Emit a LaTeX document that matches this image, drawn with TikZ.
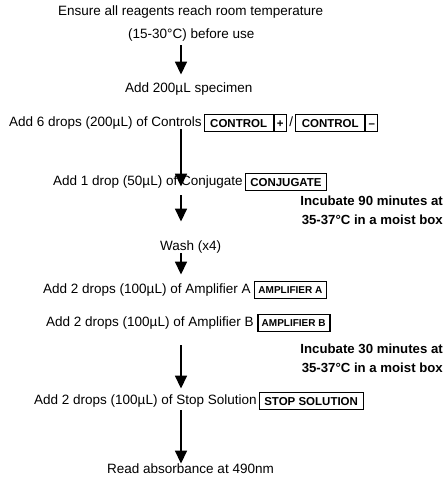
\documentclass[tikz,border=0pt]{standalone}
\usepackage{fontspec}
\setmainfont{Liberation Sans}
\usetikzlibrary{arrows.meta,calc}
\tikzset{
  txt/.style={inner sep=0pt, anchor=west, font=\fontsize{13.5}{16}\selectfont, text height=9.7pt, text depth=2.8pt},
  note/.style={inner sep=0pt, anchor=east, align=right, font=\fontsize{13.2}{19}\selectfont\bfseries},
  lbl/.style={draw, line width=0.9pt, inner xsep=5pt, inner ysep=0pt, minimum height=17pt, anchor=west, font=\fontsize{11.5}{12}\selectfont\bfseries, text height=8.3pt, text depth=0pt},
  amp/.style={lbl, font=\fontsize{10}{11}\selectfont\bfseries, text height=7.2pt, inner xsep=4pt},
  arr/.style={line width=1.6pt, -{Triangle[width=12pt,length=13pt]}}
}
\begin{document}
\begin{tikzpicture}[x=1pt,y=-1pt]
\useasboundingbox (0,0) rectangle (448,483);
\coordinate (ax) at (181,0);
\node[txt] (l1) at (58,12) {Ensure all reagents reach room temperature};
\node[txt] (l2) at (128,35) {(15-30°C) before use};
\node[txt] (spec) at (125,89) {Add 200µL specimen};
\node[txt] (ctrl) at (9,123) {Add 6 drops (200µL) of Controls};
\node[lbl, inner xsep=6pt] (c1) at ([xshift=2pt]ctrl.east) {CONTROL};
\node[lbl, inner xsep=3pt] (c1p) at (c1.east) {+};
\node[txt, anchor=west] (slash) at ([xshift=2pt]c1p.east) {/};
\node[lbl, inner xsep=6pt] (c2) at ([xshift=2pt]slash.east) {CONTROL};
\node[lbl, inner xsep=3pt] (c2m) at (c2.east) {–};
\node[txt] (conj) at (53,182) {Add 1 drop (50µL) of Conjugate};
\node[lbl] (cb) at ([xshift=2pt]conj.east) {CONJUGATE};
\node[note] (inc1) at (443,210) {Incubate 90 minutes at\\35-37°C in a moist box};
\node[txt] (wash) at (160,247) {Wash (x4)};
\node[txt] (ampa) at (43,290) {Add 2 drops (100µL) of Amplifier A};
\node[amp, line width=1.4pt] (ab) at ([xshift=3pt]ampa.east) {AMPLIFIER A};
\node[txt] (ampb) at (46,323) {Add 2 drops (100µL) of Amplifier B};
\node[amp, line width=1.9pt] (bb) at ([xshift=3pt]ampb.east) {AMPLIFIER B};
\node[note] (inc2) at (443,358) {Incubate 30 minutes at\\35-37°C in a moist box};
\node[txt] (stop) at (34,401) {Add 2 drops (100µL) of Stop Solution};
\node[lbl] (sb) at ([xshift=2pt]stop.east) {STOP SOLUTION};
\node[txt] (read) at (107,470) {Read absorbance at 490nm};
\draw[arr] ($(l2.south -| ax)+(0,4)$) -- ($(spec.north -| ax)+(0,-8)$);
\draw[arr] ($(ctrl.south -| ax)+(0,0)$) -- ($(conj.north -| ax)+(0,11)$);
\draw[arr] ($(conj.south -| ax)+(0,7)$) -- ($(wash.north -| ax)+(0,-19)$);
\draw[arr] ($(wash.south -| ax)+(0,0)$) -- ($(ampa.north -| ax)+(0,-9)$);
\draw[arr] ($(ampb.south -| ax)+(0,16)$) -- ($(stop.north -| ax)+(0,-6)$);
\draw[arr] ($(stop.south -| ax)+(0,3)$) -- ($(read.north -| ax)+(0,0)$);
\end{tikzpicture}
\end{document}
